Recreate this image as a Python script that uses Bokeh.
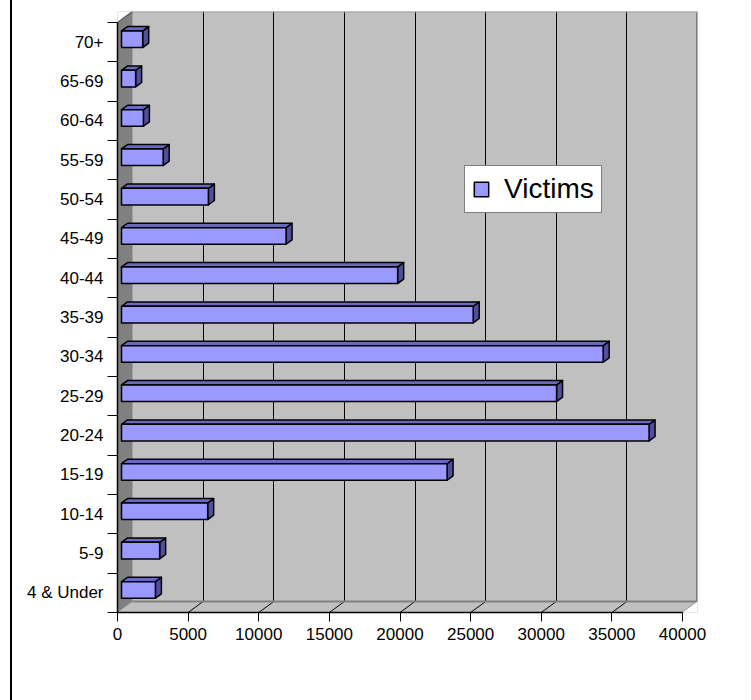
from bokeh.plotting import figure
from bokeh.layouts import row
from bokeh.models import (Range1d, LinearAxis, FixedTicker, Grid, Legend,
                          LegendItem, Div)
from bokeh.embed import file_html
from bokeh.resources import INLINE

# ---------------- data ----------------
categories = ["4 & Under", "5-9", "10-14", "15-19", "20-24", "25-29", "30-34",
              "35-39", "40-44", "45-49", "50-54", "55-59", "60-64", "65-69", "70+"]
victims = [2400, 2700, 6100, 23050, 37350, 30800, 34100,
           24900, 19550, 11650, 6150, 2950, 1550, 1000, 1500]
x_ticks = [0, 5000, 10000, 15000, 20000, 25000, 30000, 35000, 40000]
series_name = "Victims"

# ---------------- geometry (pixels -> data) ----------------
X_MAX = x_ticks[-1]
N = len(categories)
AX_LEN_PX = 565.0            # length of value axis in px
CAT_PX = 590.0 / N           # px per category
kx = X_MAX / AX_LEN_PX       # data units per px (x)
ky = 1.0 / CAT_PX            # data units per px (y)
DX = 15 * kx                 # 3-D depth offset of the walls
DY = 11 * ky
AXo, AYo = 4 * kx, 2.9 * ky  # bar front-face offset
BX, BY = 6 * kx, 4.4 * ky    # bar depth
HH = 8.3 * ky                # half bar height

EDGE_W = 12                  # left strip holding the outer border line
RIGHT_W = 1                  # right strip (faint border)
W, H = 752, 700
LEFT_PX, BOTTOM_PX = 117, 612
PW = W - EDGE_W - RIGHT_W
frame_left = LEFT_PX - EDGE_W
frame_right_px = LEFT_PX + AX_LEN_PX + 15
frame_top_px = BOTTOM_PX - 590 - 11

p = figure(width=PW, height=H, output_backend="svg", toolbar_location=None,
           x_range=Range1d(0, X_MAX + DX), y_range=Range1d(0, N + DY),
           x_axis_location=None, y_axis_location=None,
           min_border_left=frame_left,
           min_border_right=int(W - RIGHT_W - frame_right_px),
           min_border_top=int(frame_top_px), min_border_bottom=H - BOTTOM_PX)
p.grid.visible = False
p.outline_line_color = None
p.background_fill_color = "#C0C0C0"
p.border_fill_color = "white"

# grid lines on the back wall (offset range)
p.extra_x_ranges = {"back": Range1d(-DX, X_MAX)}
p.add_layout(Grid(dimension=0, ticker=FixedTicker(ticks=x_ticks[1:-1]),
                  x_range_name="back", grid_line_color="black",
                  grid_line_width=1))

# floor
p.patch([0, X_MAX, X_MAX + DX, DX], [0, 0, DY, DY], fill_color="#C0C0C0",
        line_color=None)
p.segment(x0=x_ticks[1:-1], y0=[0] * 7, x1=[v + DX for v in x_ticks[1:-1]],
          y1=[DY] * 7, line_color="black", line_width=1)
p.line([DX, X_MAX + DX], [DY, DY], line_color="#808080", line_width=2)
p.line([X_MAX, X_MAX + DX], [0, DY], line_color="#909090", line_width=1.5)
# white corners outside the box
p.patch([0, DX, 0], [N + DY, N + DY, N], fill_color="white", line_color=None)
p.patch([X_MAX, X_MAX + DX, X_MAX + DX], [0, DY, 0], fill_color="white",
        line_color=None)
# side wall
p.patch([0, DX, DX, 0], [0, DY, N + DY, N], fill_color="#808080",
        line_color=None)
p.line([0, DX], [N, N + DY], line_color="#606060", line_width=1.5)
# back wall edges
p.line([X_MAX + DX, X_MAX + DX], [DY, N + DY], line_color="#808080", line_width=3)
p.line([DX, X_MAX + DX], [N + DY, N + DY], line_color="#A8A8A8", line_width=2)

# ---------------- bars ----------------
centers = [i + 0.5 for i in range(N)]
lefts = [AXo] * N
rights = [v + AXo for v in victims]
bottoms = [c - HH + AYo for c in centers]
tops = [c + HH + AYo for c in centers]

side_xs = [[r, r + BX, r + BX, r] for r in rights]
side_ys = [[b, b + BY, t + BY, t] for b, t in zip(bottoms, tops)]
top_xs = [[l, r, r + BX, l + BX] for l, r in zip(lefts, rights)]
top_ys = [[t, t, t + BY, t + BY] for t in tops]

p.patches(side_xs, side_ys, fill_color="#50509A", line_color="black",
          line_width=1.5, line_join="round")
p.patches(top_xs, top_ys, fill_color="#6A6ABC", line_color="black",
          line_width=1.5, line_join="round")
front = p.quad(left=lefts, right=rights, bottom=bottoms, top=tops,
               fill_color="#9999FF", line_color="black", line_width=1.5)

# ---------------- axes ----------------
FONT = "Liberation Sans"
xaxis = LinearAxis(ticker=FixedTicker(ticks=x_ticks), bounds=(0, X_MAX))
xaxis.axis_line_color = "black"
xaxis.axis_line_width = 1.5
xaxis.major_tick_out = 9
xaxis.major_tick_in = 0
xaxis.minor_tick_out = 0
xaxis.minor_tick_in = 0
xaxis.major_tick_line_color = "black"
xaxis.major_label_text_font = FONT
xaxis.major_label_text_font_size = "17px"
xaxis.major_label_text_color = "black"
xaxis.major_label_standoff = 6
p.add_layout(xaxis, "below")

yaxis = LinearAxis(ticker=FixedTicker(ticks=centers, minor_ticks=list(range(N + 1))),
                   bounds=(0, N))
yaxis.major_label_overrides = {c: name for c, name in zip(centers, categories)}
yaxis.axis_line_color = "black"
yaxis.axis_line_width = 1.5
yaxis.major_tick_line_color = None
yaxis.major_tick_out = 0
yaxis.major_tick_in = 0
yaxis.minor_tick_line_color = "black"
yaxis.minor_tick_out = 10
yaxis.minor_tick_in = 0
yaxis.major_label_text_font = FONT
yaxis.major_label_text_font_size = "17px"
yaxis.major_label_text_color = "black"
yaxis.major_label_standoff = 4
p.add_layout(yaxis, "left")

# ---------------- legend ----------------
legend = Legend(items=[LegendItem(label=series_name, renderers=[front])],
                location=(347, 399), orientation="vertical",
                border_line_color="black", border_line_width=1,
                background_fill_color="white", background_fill_alpha=1,
                label_text_font=FONT, label_text_font_size="28px",
                label_text_color="black",
                glyph_width=18, glyph_height=18, label_standoff=14,
                padding=7, margin=0, spacing=0, label_height=25)
p.add_layout(legend, "center")

# outer chart border strips
left_edge = Div(width=EDGE_W, height=H, margin=0,
                styles={"background": "linear-gradient(to right, white 10px, black 10px)"})
right_edge = Div(width=RIGHT_W, height=H, margin=0,
                 styles={"background": "#D8D8D8"})
layout = row(left_edge, p, right_edge, spacing=0)

open("out.html", "w").write(file_html(layout, INLINE))
